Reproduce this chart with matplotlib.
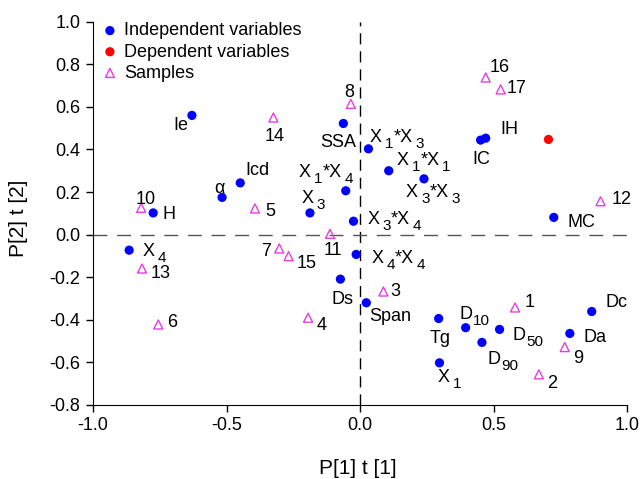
import re
import matplotlib
matplotlib.use("Agg")
import matplotlib.pyplot as plt

plt.rcParams['font.family'] = ['Liberation Sans', 'DejaVu Sans']

# Independent variables ("_" marks a lowered index)
ind_labels = ["Ie", "α", "Icd", "H", "X_3", "X_1*X_4", "SSA", "X_3*X_4",
              "X_4", "Ds", "X_4*X_4", "Span", "X_1*X_3", "X_1*X_1",
              "X_3*X_3", "IC", "IH", "MC", "Tg", "D_10", "D_50", "D_90",
              "X_1", "Da", "Dc"]
ind_x = [-0.630, -0.517, -0.449, -0.775, -0.188, -0.054, -0.063, -0.025,
         -0.865, -0.074, -0.015, 0.023, 0.031, 0.107,
         0.239, 0.451, 0.470, 0.725, 0.294, 0.395, 0.522, 0.456,
         0.297, 0.785, 0.867]
ind_y = [0.560, 0.175, 0.243, 0.102, 0.102, 0.206, 0.522, 0.063,
         -0.073, -0.209, -0.093, -0.320, 0.403, 0.300,
         0.262, 0.444, 0.453, 0.081, -0.394, -0.437, -0.445, -0.506,
         -0.602, -0.464, -0.361]

# Dependent variables
dep_x = [0.705]
dep_y = [0.447]

# Samples
smp_labels = [str(i) for i in range(1, 18)]
smp_x = [0.580, 0.669, 0.087, -0.195, -0.394, -0.756, -0.303, -0.035, 0.766,
         -0.820, -0.113, 0.900, -0.817, -0.325, -0.268, 0.470, 0.526]
smp_y = [-0.342, -0.656, -0.267, -0.390, 0.123, -0.422, -0.065, 0.614, -0.528,
         0.126, 0.004, 0.157, -0.159, 0.550, -0.101, 0.738, 0.682]

# label placement (pixels right/down); plain labels: centre, indexed labels: left/baseline
ind_off = [(-11, 8), (-3, -11), (17, -14), (16, 0), (-8, -9.5), (-47, -14), (-5, 17), (14, 2.5),
           (13, 6), (2, 18), (15, 8.5), (24, 12), (1.5, -7), (8, -5.7),
           (-18, 18), (1, 17), (24, -11), (28, 3), (1, 18), (-6, -9), (13, 11), (6, 21.5),
           (-2, 19.5), (25, 2), (25, -11)]
smp_off = [(15, -7), (13, 7), (12, -2), (14, 6), (15, 1), (14, -4), (-13, 1), (-2, -13), (13, 9),
           (5, -10), (3, 15), (21, -4), (19, 3), (1, 17), (18, 5), (14, -12), (16, -3)]

fig = plt.figure(figsize=(6.42, 4.79), dpi=100)
ax = fig.add_axes([0.145, 0.1545, 0.832, 0.8002])

K = 0.72  # px -> pt
FS = 13
SFS = 11
SHIFT = 5


def draw_label(x, y, lab, dx, dy):
    if '_' not in lab:
        ax.annotate(lab, (x, y), xytext=(dx * K, -dy * K), textcoords='offset points',
                    ha='center', va='center_baseline', fontsize=FS)
        return
    toks = re.split(r'_(\d+)', lab)
    prev = ax.annotate(toks[0], (x, y), xytext=(dx * K, -dy * K), textcoords='offset points',
                       ha='left', va='baseline', fontsize=FS)
    prev_shift = 0
    prev_tok = toks[0]
    for i, tok in enumerate(toks[1:], 1):
        if tok == '':
            continue
        sub = (i % 2 == 1)
        cur_shift = SHIFT if sub else 0
        gap = (3.0 if prev_tok.endswith('X') else 0.5) if sub else 0.0
        prev = ax.annotate(tok, xy=(1, 0), xycoords=prev,
                           xytext=(gap * K, -(cur_shift - prev_shift) * K), textcoords='offset points',
                           ha='left', va='bottom', fontsize=SFS if sub else FS)
        prev_shift = cur_shift
        prev_tok = tok


ax.axvline(0, color='black', lw=1.0, ls=(0, (8, 5)), zorder=1)
ax.axhline(0, color='#555555', lw=1.0, ls=(0, (10, 7)), zorder=1)

ax.scatter(ind_x, ind_y, s=44, color='#0000FF', edgecolors='none', zorder=3, label='Independent variables')
ax.scatter(dep_x, dep_y, s=44, color='#FF0000', edgecolors='none', zorder=3, label='Dependent variables')
ax.scatter(smp_x, smp_y, s=42, marker='^', facecolors='none', edgecolors='#E83CE8', linewidths=1.0,
           zorder=3, label='Samples')

for lab, x, y, (dx, dy) in zip(ind_labels, ind_x, ind_y, ind_off):
    draw_label(x, y, lab, dx, dy)
for lab, x, y, (dx, dy) in zip(smp_labels, smp_x, smp_y, smp_off):
    draw_label(x, y, lab, dx, dy)

ax.set_xlim(-1.0, 1.0)
ax.set_ylim(-0.8, 1.0)
ax.set_xticks([-1.0, -0.5, 0.0, 0.5, 1.0])
ax.set_yticks([-0.8, -0.6, -0.4, -0.2, 0.0, 0.2, 0.4, 0.6, 0.8, 1.0])
ax.set_xticklabels(['-1.0', '-0.5', '0.0', '0.5', '1.0'])
ax.set_yticklabels(['-0.8', '-0.6', '-0.4', '-0.2', '0.0', '0.2', '0.4', '0.6', '0.8', '1.0'])
ax.spines['top'].set_visible(False)
ax.spines['right'].set_visible(False)
ax.tick_params(labelsize=13, length=5, width=1, direction='out', pad=4)
ax.set_xlabel('P[1] t [1]', fontsize=15)
ax.set_ylabel('P[2] t [2]', fontsize=15)
ax.xaxis.set_label_coords(0.495, -0.141)
ax.xaxis.label.set_va('top')
ax.yaxis.set_label_coords(-0.122, 0.488)

ax.legend(loc='upper left', frameon=False, fontsize=13, handletextpad=0.2, borderaxespad=0.0,
          labelspacing=0.23, bbox_to_anchor=(0.0112, 0.9983), handlelength=1.2, borderpad=0.0)

fig.savefig('out.png', dpi=100)
